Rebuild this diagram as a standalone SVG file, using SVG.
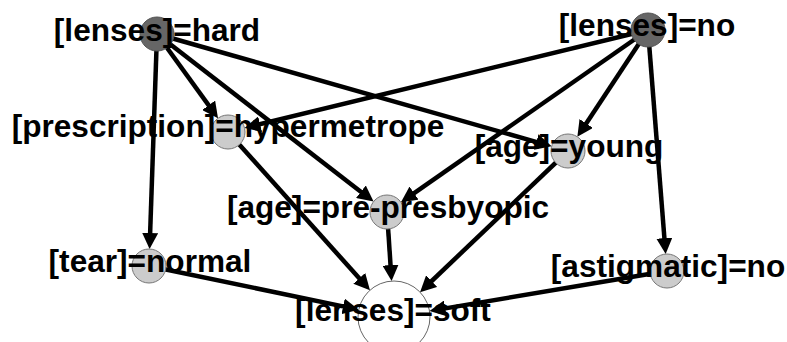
<svg xmlns="http://www.w3.org/2000/svg" width="787" height="342" viewBox="0 0 787 342">
<style>
.e{stroke:#000;stroke-width:4.5;fill:none;marker-end:url(#ah)}
.dk{fill:#666666;stroke:#555;stroke-width:1}
.lt{fill:#cccccc;stroke:#777;stroke-width:1}
.wh{fill:#ffffff;stroke:#666;stroke-width:1}
text{font-family:"Liberation Sans",Arial,Helvetica,sans-serif;font-weight:bold;font-size:31.6px;fill:#000;text-anchor:middle}
</style>
<defs>
<marker id="ah" viewBox="0 0 16 16" markerWidth="16" markerHeight="16" refX="6" refY="8" markerUnits="userSpaceOnUse" orient="auto">
<path d="M0,0 L16,8 L0,16 z" fill="#000"/>
</marker>
</defs>
<rect width="787" height="342" fill="#fff"/>
<g id="edges">
<line class="e" x1="157" y1="34" x2="212.16" y2="110.13"/>
<line class="e" x1="157" y1="34" x2="542.03" y2="143.61"/>
<line class="e" x1="157" y1="34" x2="365.65" y2="195.47"/>
<line class="e" x1="157" y1="34" x2="149.93" y2="239.02"/>
<line class="e" x1="648" y1="30" x2="254.24" y2="125.63"/>
<line class="e" x1="648" y1="30" x2="409.15" y2="196.56"/>
<line class="e" x1="648" y1="30" x2="582.89" y2="128.48"/>
<line class="e" x1="648" y1="30" x2="664.88" y2="244.08"/>
<line class="e" x1="228" y1="132" x2="363.28" y2="282.76"/>
<line class="e" x1="568" y1="151" x2="427.28" y2="285.25"/>
<line class="e" x1="387" y1="212" x2="390.94" y2="271.10"/>
<line class="e" x1="149" y1="266" x2="348.97" y2="307.63"/>
<line class="e" x1="667" y1="271" x2="439.36" y2="309.36"/>
</g>
<g id="n_lenses_hard"><circle class="dk" cx="157" cy="34" r="17"/><text x="157" y="41">[lenses]=hard</text></g>
<g id="n_lenses_no"><circle class="dk" cx="648" cy="30" r="17"/><text x="647" y="36">[lenses]=no</text></g>
<g id="n_prescription"><circle class="lt" cx="228" cy="132" r="17"/><text x="228" y="137">[prescription]=hypermetrope</text></g>
<g id="n_age_young"><circle class="lt" cx="568" cy="151" r="17"/><text x="569" y="157">[age]=young</text></g>
<g id="n_age_pre"><circle class="lt" cx="387" cy="212" r="17"/><text x="388" y="218">[age]=pre-presbyopic</text></g>
<g id="n_tear"><circle class="lt" cx="149" cy="266" r="17"/><text x="150" y="272">[tear]=normal</text></g>
<g id="n_astig"><circle class="lt" cx="667" cy="271" r="17"/><text x="668" y="277">[astigmatic]=no</text></g>
<g id="n_lenses_soft"><circle class="wh" cx="394" cy="317" r="36"/><text x="393" y="321">[lenses]=soft</text></g>
</svg>
